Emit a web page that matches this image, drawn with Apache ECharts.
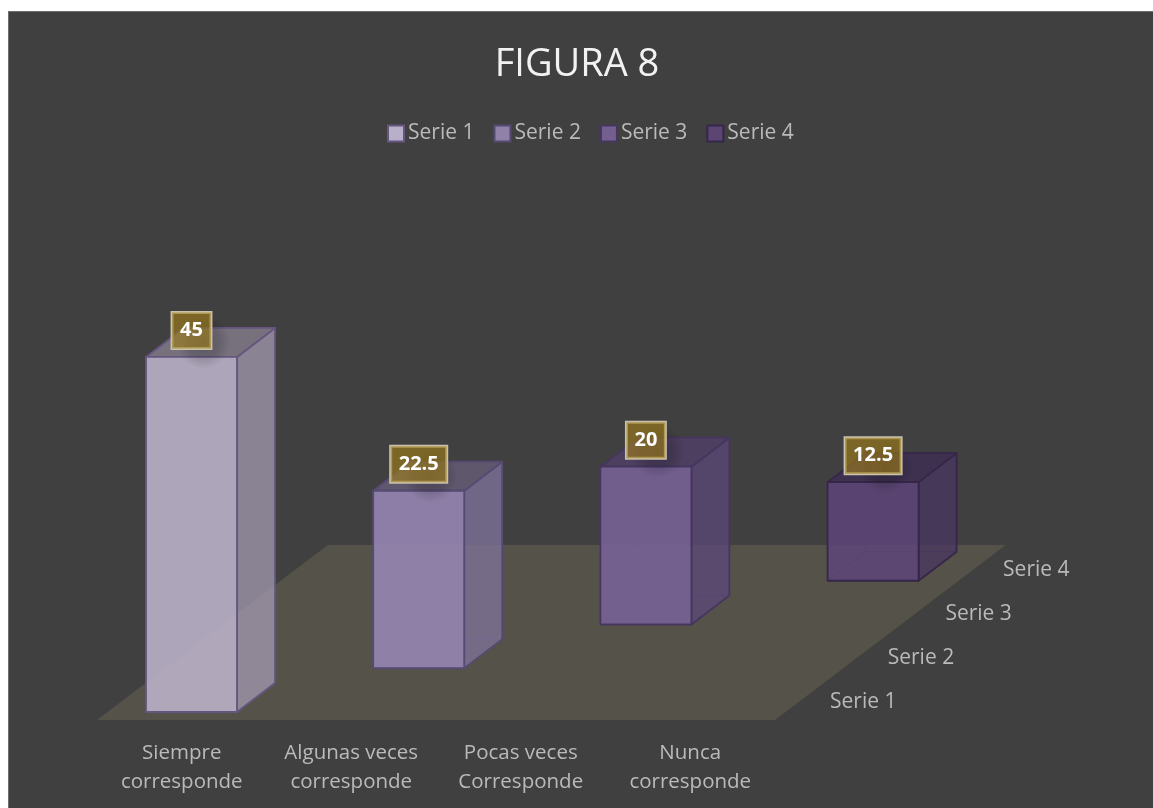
<!DOCTYPE html>
<html>
<head>
<meta charset="utf-8">
<style>
html,body{margin:0;padding:0;width:1153px;height:808px;overflow:hidden;background:#fff}
#frame{position:absolute;left:8px;top:11px;width:1160px;height:810px;background:#404040;border:1.5px solid #6e6e6e;box-sizing:border-box}
#c{position:absolute;left:0;top:0;width:1153px;height:808px}
</style>
<script src="https://cdn.jsdelivr.net/npm/echarts@6/dist/echarts.min.js"></script>
</head>
<body>
<div id="frame"></div>
<div id="c"></div>
<script>
const titleText = 'FIGURA 8';
const categories = ['Siempre\ncorresponde', 'Algunas veces\ncorresponde', 'Pocas veces\nCorresponde', 'Nunca\ncorresponde'];
const seriesNames = ['Serie 1', 'Serie 2', 'Serie 3', 'Serie 4'];
const serie1 = [45, null, null, null];
const serie2 = [null, 22.5, null, null];
const serie3 = [null, null, 20, null];
const serie4 = [null, null, null, 12.5];
const seriesValues = [serie1, serie2, serie3, serie4];

const frontFill = ['rgba(190,180,203,.87)', 'rgba(152,136,182,.87)', 'rgba(121,99,153,.87)', 'rgba(93,69,121,.87)'];
const sideFill = ['rgba(169,160,184,.7)', 'rgba(133,118,163,.7)', 'rgba(93,71,126,.7)', 'rgba(72,52,99,.7)'];
const topFill = ['rgba(141,134,151,.7)', 'rgba(108,98,128,.7)', 'rgba(81,63,110,.7)', 'rgba(61,43,87,.7)'];
const edge = ['#65557f', '#564a72', '#46365f', '#35264a'];
const legendFill = ['#b8afc8', '#8f81a8', '#73608f', '#5b4673'];
const legendEdge = ['#65557f', '#564a72', '#46365f', '#35264a'];

const DEPTH_STEP = [57.7, 43.75];   // floor shift per series row
const BAR_DEPTH = [38, 29];         // depth of a box
const BAR_WIDTH = 91;
const FRONT_INSET = [9.75, 8];      // front face inside its floor cell
const font = '"Open Sans", sans-serif';
const textGrey = '#bababa';

function poly(points, fill, stroke, z2) {
  return { type: 'polygon', z2: z2, shape: { points: points },
    style: { fill: fill, stroke: stroke, lineWidth: 1.8, lineJoin: 'round' } };
}

function barRenderer(s) {
  return function (params, api) {
    const c = api.value(0), v = api.value(1);
    const unit = api.size([1, 0])[0];
    const top = api.coord([c, v]);
    const base = api.coord([c, 0]);
    const dx = FRONT_INSET[0] + s * DEPTH_STEP[0], dy = FRONT_INSET[1] + s * DEPTH_STEP[1];
    const xl = base[0] + dx - BAR_WIDTH / 2, xr = xl + BAR_WIDTH;
    const yb = base[1] - dy, yt = top[1] - dy;
    const bx = BAR_DEPTH[0], by = BAR_DEPTH[1];
    const e = edge[s];
    const xc = xl + BAR_WIDTH / 2;
    // floor-row label
    const rowX = base[0] - c * unit + unit * 3.5 + s * DEPTH_STEP[0];
    const rowY = base[1] - (s + 0.5) * DEPTH_STEP[1];
    return { type: 'group', children: [
      // hidden rear edges, seen through the faces
      { type: 'polyline', z2: 1, shape: { points: [[xl, yb], [xl + bx, yb - by], [xr + bx, yb - by]] },
        style: { fill: 'none', stroke: e, lineWidth: 1.2, opacity: 0.55 } },
      { type: 'line', z2: 1, shape: { x1: xl + bx, y1: yb - by, x2: xl + bx, y2: yt - by },
        style: { stroke: e, lineWidth: 1.2, opacity: 0.45 } },
      poly([[xr, yb], [xr + bx, yb - by], [xr + bx, yt - by], [xr, yt]], sideFill[s], e, 2),
      poly([[xl, yt], [xl + bx, yt - by], [xr + bx, yt - by], [xr, yt]], topFill[s], e, 2),
      poly([[xl, yb], [xr, yb], [xr, yt], [xl, yt]], frontFill[s], e, 3),
      // soft shadow cast by the value label
      { type: 'rect', z2: 4, shape: { x: xc - 32, y: yt - 42, width: 88, height: 54 },
        style: { fill: { type: 'radial', x: 0.5, y: 0.5, r: 0.5, colorStops: [
          { offset: 0, color: 'rgba(0,0,0,.24)' }, { offset: 0.6, color: 'rgba(0,0,0,.14)' }, { offset: 1, color: 'rgba(0,0,0,0)' }] } } },
      { type: 'text', z2: 10, x: xc, y: yt - 26.5,
        style: { text: String(v), font: 'bold 20px ' + font, fill: '#ffffff',
          align: 'center', verticalAlign: 'middle',
          backgroundColor: 'rgba(159,126,26,.62)', borderColor: '#c9c2ad', borderWidth: 1.5,
          padding: [8, 8, 8, 8] } },
      { type: 'text', z2: 5, x: rowX + 55, y: rowY + 3.5,
        style: { text: seriesNames[s], font: '21px ' + font, fill: textGrey,
          align: 'left', verticalAlign: 'middle' } }
    ] };
  };
}

const series = [{
  type: 'custom', name: 'suelo', silent: true, clip: false, z: 1,
  data: [[0, 0]],
  renderItem: function (params, api) {
    const unit = api.size([1, 0])[0];
    const p = api.coord([0, 0]);
    const x0 = p[0] - unit / 2, y0 = p[1];
    const n = seriesNames.length;
    const w = categories.length * unit;
    const ox = n * DEPTH_STEP[0], oy = n * DEPTH_STEP[1];
    return { type: 'polygon', shape: { points: [[x0, y0], [x0 + w, y0], [x0 + w + ox, y0 - oy], [x0 + ox, y0 - oy]] },
      style: { fill: '#555249' } };
  }
}];
seriesNames.forEach(function (name, s) {
  series.push({
    type: 'custom', name: name, clip: false, z: 2 + s,
    itemStyle: { color: legendFill[s] },
    data: seriesValues[s].map(function (v, i) { return v == null ? null : [i, v]; }).filter(Boolean),
    encode: { x: 0, y: 1 },
    renderItem: barRenderer(s)
  });
});

const chart = echarts.init(document.getElementById('c'), null, { renderer: 'canvas' });
chart.setOption({
  backgroundColor: 'transparent',
  animation: false,
  title: { text: titleText, left: 572, top: 41, textAlign: 'center',
    textStyle: { color: '#f2f2f2', fontFamily: font, fontWeight: 'normal', fontSize: 38 } },
  legend: {
    left: 387, top: 123, padding: 0, itemWidth: 16, itemHeight: 16, itemGap: 19,
    textStyle: { color: textGrey, fontFamily: font, fontSize: 21, padding: [0, 0, 0, -1] },
    data: seriesNames.map(function (n, s) {
      return { name: n, icon: 'rect', itemStyle: { color: legendFill[s], borderColor: legendEdge[s], borderWidth: 2 } };
    })
  },
  grid: { left: 97, width: 678, top: 88.8, height: 631.2, containLabel: false },
  xAxis: { type: 'category', data: categories,
    axisLine: { show: false }, axisTick: { show: false }, splitLine: { show: false },
    axisLabel: { interval: 0, margin: 19, color: textGrey, fontFamily: font, fontSize: 20.5, lineHeight: 29 } },
  yAxis: { type: 'value', min: 0, max: 80, show: false },
  series: series
});
</script>
</body>
</html>
